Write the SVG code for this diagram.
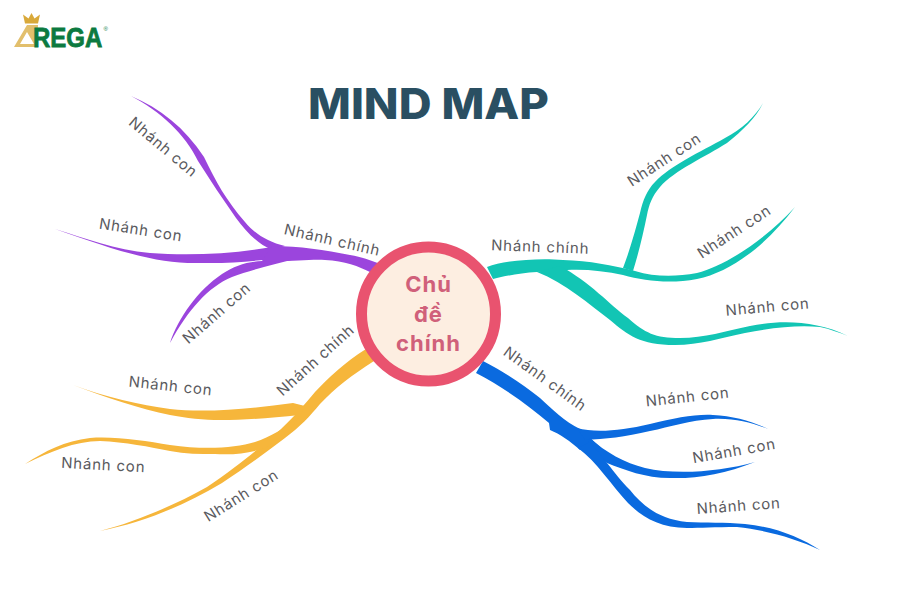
<svg xmlns="http://www.w3.org/2000/svg" width="900" height="600" viewBox="0 0 900 600">
<style>
.l{font-family:"Inter","Liberation Sans",sans-serif;font-size:15px;fill:#5a5a5e;text-anchor:middle;letter-spacing:.8px}
.c{font-family:"Inter","Liberation Sans",sans-serif;font-size:22px;font-weight:700;fill:#d0607a;text-anchor:middle;letter-spacing:1px}
.p{fill:#9b45dd}.t{fill:#12c5b4}.b{fill:#0a6adf}.y{fill:#f6b63b}
</style>
<rect width="900" height="600" fill="#fff"/>
<g id="logo">
<path d="M25,23.500L23,14.500L28.500,18.500L31.500,13L34.500,18.500L40,14.500L38,23.500Z" fill="#d9a93a"/>
<path fill-rule="evenodd" d="M27,25L38,25L37,47L14,47ZM27,32L20,44L34,44Z" fill="#e2bf6c"/>
<text transform="translate(33,47) scale(1,1.17)" font-family="'Liberation Sans',sans-serif" font-size="24" font-weight="700" fill="#0c7a40" stroke="#0c7a40" stroke-width=".7">REGA</text>
<text x="103.500" y="31" font-family="'Liberation Sans',sans-serif" font-size="6" fill="#0c7a40">®</text>
</g>
<g id="title"><text x="428.500" y="119" text-anchor="middle" font-family="Inter,'Liberation Sans',sans-serif" font-size="42" font-weight="800" fill="#2a4f62" textLength="241" lengthAdjust="spacingAndGlyphs">MIND MAP</text></g>
<g id="connectors">
<g id="purple-branch">
<path class="p" d="M131,96C160,108 185,128 204,157C216,182 226,200 245,222C255,234 268,242 285,246L272,250C258,244 246,232 236,218C222,198 210,180 198,161C185,134 160,111 131,96Z"/>
<path class="p" d="M55,229C85,238 115,250 150,253C190,256 235,254 277,246L300,258C270,258 240,264 200,263C155,264 115,250 55,229Z"/>
<path class="p" d="M170,343C178,318 198,290 222,274C235,266 245,262 262,261L300,258C275,264 250,270 232,277C208,287 188,310 170,343Z"/>
<path class="p" d="M272,246C300,246 325,250 350,255C362,257 370,260 380,264L372,273C358,266 345,261 325,260C310,259 290,262 262,261Z"/>
</g>
<g id="teal-branch">
<path class="t" d="M487,267C505,260 540,258 563,260C590,261 612,265 635,271C655,277 675,277 697,273C725,266 765,240 795,207C768,243 732,272 697,279C670,284 645,281 623,275C605,271 585,269 567,270L537,272C520,273 505,276 493,279Z"/>
<path class="t" d="M537,272C565,283 590,305 610,320C628,335 640,345 675,345C700,345 720,338 745,333C775,327 800,325 820,327C830,329 840,333 848,336C815,320 780,320 750,326C725,331 705,338 680,338C655,338 645,333 628,318C610,305 590,282 560,266Z"/>
<path class="t" d="M623,268C630,250 636,228 640,213C643,200 647,190 655,182C670,166 700,152 725,138C742,129 755,117 763,103C756,118 743,130 727,143C705,157 675,170 660,187C652,196 649,205 647,215C643,235 638,255 633,271Z"/>
</g>
<g id="blue-branch">
<path class="b" d="M483,361C505,372 525,386 540,398C552,409 565,422 580,429L600,447L580,450C570,441 560,434 550,430L549,423C530,407 505,388 476,373Z"/>
<path class="b" d="M577,428C595,433 620,431 650,424C675,418 695,414 713,415C733,416 752,421 768,429C752,423 735,418 713,419C690,420 670,427 650,431C625,437 605,439 585,440Z"/>
<path class="b" d="M590,438C605,452 625,463 645,468C675,475 720,472 755,462C725,474 695,479 670,478C645,478 625,470 607,463L585,448Z"/>
<path class="b" d="M590,442L607,463C615,473 620,480 630,490C642,505 658,519 687,522C705,523 725,522 745,524C775,527 800,537 820,550C795,538 765,530 737,527C715,527 700,528 687,528C660,528 642,517 628,503C612,486 597,462 578,448Z"/>
</g>
<g id="yellow-branch">
<path class="y" d="M366,349C345,362 328,378 315,392C305,404 295,416 280,430C265,443 240,465 207,487C175,505 135,522 100,531C140,523 180,508 222,483C245,468 265,453 285,438C300,427 310,416 320,404C335,388 352,375 374,361Z"/>
<path class="y" d="M73,385C105,397 140,405 170,409C205,413 250,409 293,403L305,406L300,415C270,418 245,420 220,420C205,420 185,418 170,415C140,409 105,397 73,385Z"/>
<path class="y" d="M25,464C45,451 65,441 90,438C115,436 145,441 170,445C205,450 235,448 255,442C270,437 285,428 300,416L290,430L265,448C250,453 235,455 215,454C200,454 185,454 170,451C150,447 125,442 100,441C75,441 50,452 25,464Z"/>
</g>
</g>
<g id="center"><circle cx="428.500" cy="314" r="67" fill="#fdeee1" stroke="#e9536f" stroke-width="11"/>
<text class="c" x="428.500" y="292">Chủ</text><text class="c" x="428.500" y="322">đề</text><text class="c" x="428.500" y="351">chính</text></g>
<g id="n1"><text class="l" transform="translate(160,151) rotate(40)">Nhánh con</text></g>
<g id="n2"><text class="l" transform="translate(140,235) rotate(9)">Nhánh con</text></g>
<g id="n3"><text class="l" transform="translate(220,317) rotate(-41)">Nhánh con</text></g>
<g id="n4"><text class="l" transform="translate(331,245) rotate(13)">Nhánh chính</text></g>
<g id="n5"><text class="l" transform="translate(540,252) rotate(2)">Nhánh chính</text></g>
<g id="n6"><text class="l" transform="translate(667,164) rotate(-33)">Nhánh con</text></g>
<g id="n7"><text class="l" transform="translate(737,236) rotate(-33)">Nhánh con</text></g>
<g id="n8"><text class="l" transform="translate(768,312) rotate(-5)">Nhánh con</text></g>
<g id="n9"><text class="l" transform="translate(542,383) rotate(36)">Nhánh chính</text></g>
<g id="n10"><text class="l" transform="translate(688,402) rotate(-6)">Nhánh con</text></g>
<g id="n11"><text class="l" transform="translate(735,456) rotate(-10)">Nhánh con</text></g>
<g id="n12"><text class="l" transform="translate(739,511) rotate(-4)">Nhánh con</text></g>
<g id="n13"><text class="l" transform="translate(319,364) rotate(-42)">Nhánh chính</text></g>
<g id="n14"><text class="l" transform="translate(170,391) rotate(6)">Nhánh con</text></g>
<g id="n15"><text class="l" transform="translate(103,470) rotate(3)">Nhánh con</text></g>
<g id="n16"><text class="l" transform="translate(244,500) rotate(-32)">Nhánh con</text></g>
</svg>
